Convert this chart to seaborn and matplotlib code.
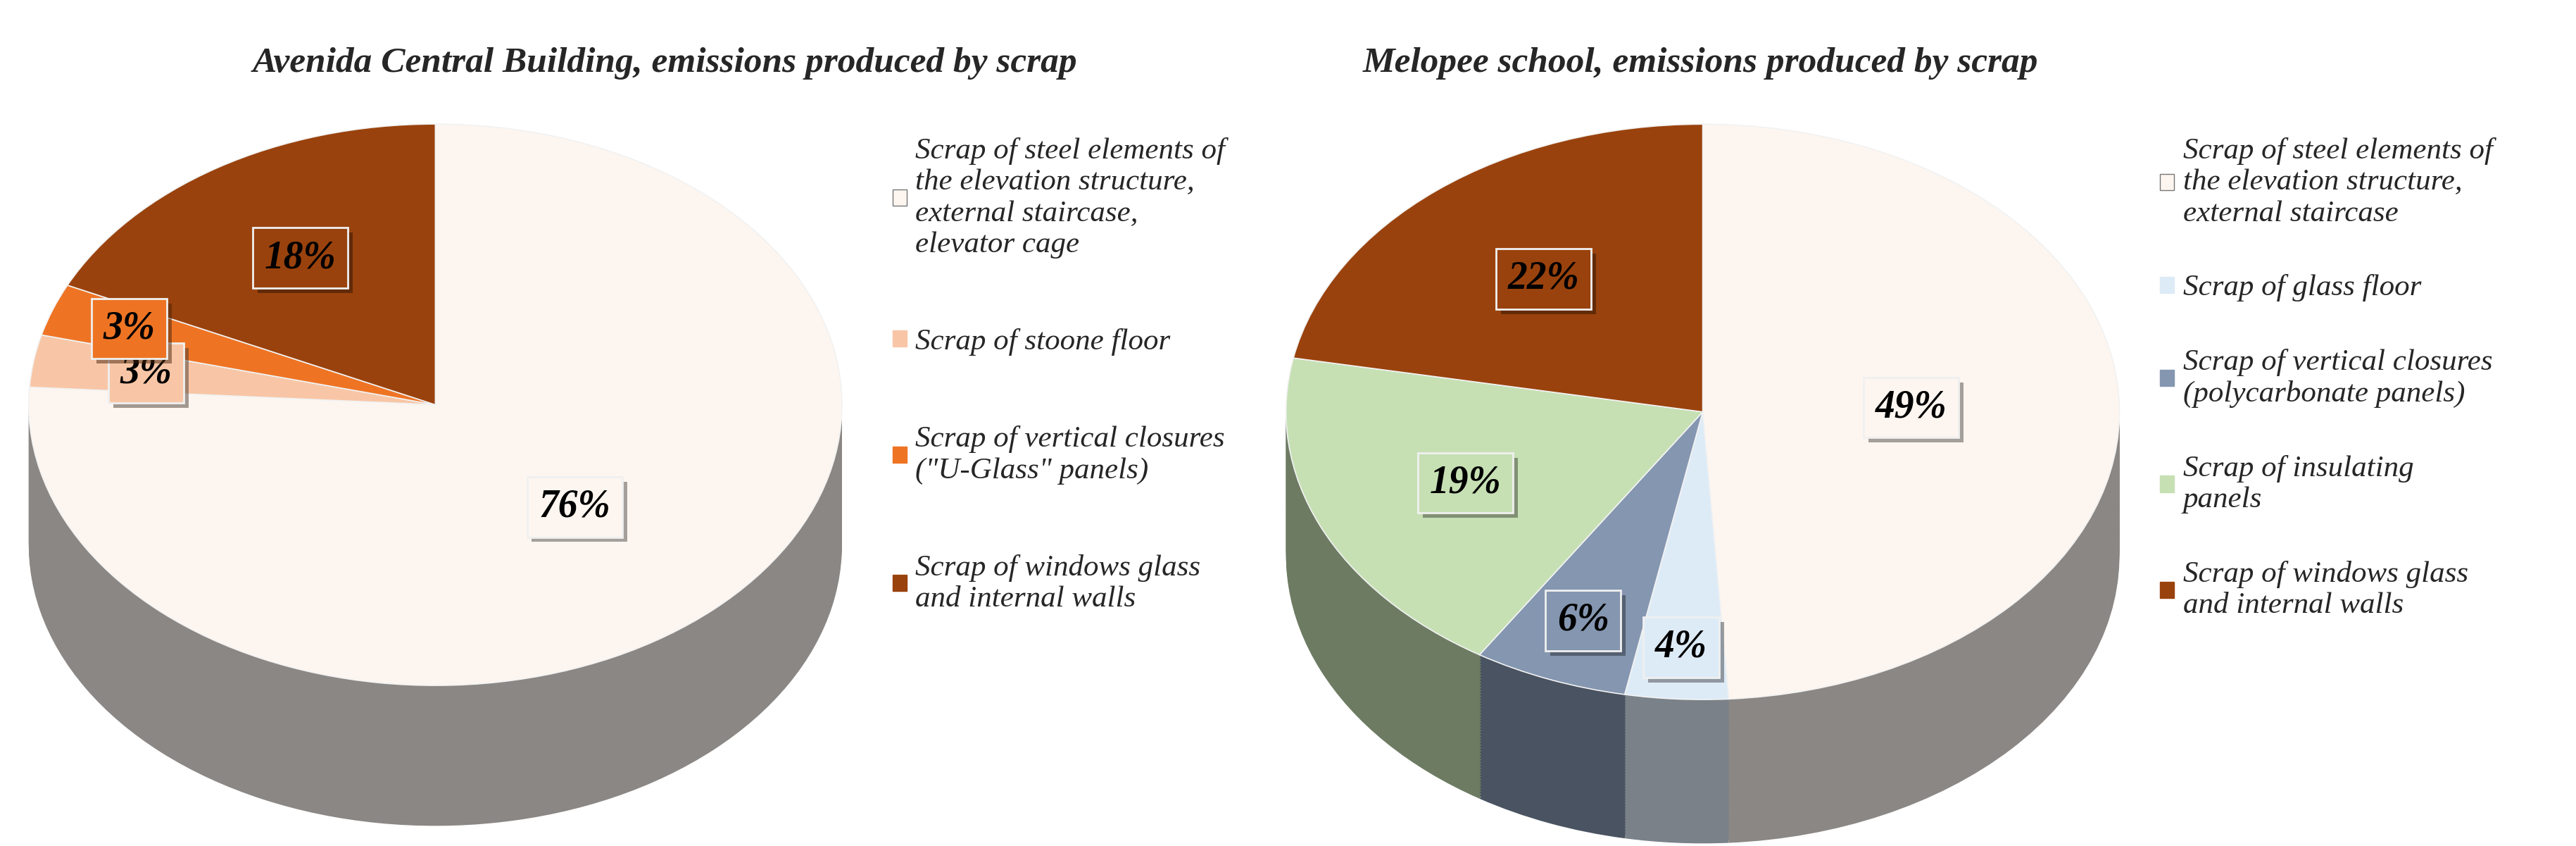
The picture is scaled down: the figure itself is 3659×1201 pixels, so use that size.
import numpy as np
import matplotlib.pyplot as plt
import matplotlib.colors as mcolors
import matplotlib.patheffects as pe
from matplotlib.patches import Patch
import seaborn as sns

sns.set_theme(style="white")
plt.rcParams['font.family'] = ['Liberation Serif', 'DejaVu Serif']

# Avenida Central Building
left_title = "Avenida Central Building, emissions produced by scrap"
left_labels = ["Scrap of steel elements of\nthe elevation structure,\nexternal staircase,\nelevator cage",
               "Scrap of stoone floor",
               "Scrap of vertical closures\n(\"U-Glass\" panels)",
               "Scrap of windows glass\nand internal walls"]
left_values = [76, 3, 3, 18]
left_colors = ["#FDF6F0", "#F8C6A6", "#EE7424", "#9A420D"]
left_pctdist = [0.5, 0.72, 0.8, 0.62]

# Melopee school
right_title = "Melopee school, emissions produced by scrap"
right_labels = ["Scrap of steel elements of\nthe elevation structure,\nexternal staircase",
                "Scrap of glass floor",
                "Scrap of vertical closures\n(polycarbonate panels)",
                "Scrap of insulating\npanels",
                "Scrap of windows glass\nand internal walls"]
right_values = [49, 4, 6, 19, 22]
right_colors = ["#FDF6F0", "#DDEBF7", "#8496B0", "#C6E0B4", "#9A420D"]
right_pctdist = [0.5, 0.82, 0.78, 0.62, 0.6]

fig = plt.figure(figsize=(36.59, 12.01), dpi=100)
fig.patch.set_facecolor("white")


def pie3d(ax, values, colors, pctdist):
    depth = 0.5
    steps = 50
    side = [tuple(np.array(mcolors.to_rgb(c)) * 0.55) for c in colors]
    for k in range(steps, 0, -1):
        ax.pie(values, colors=side, startangle=90, counterclock=False,
               center=(0, -depth * k / steps), radius=1.0,
               wedgeprops=dict(linewidth=0))
    wedges, texts, autotexts = ax.pie(
        values, colors=colors, startangle=90, counterclock=False,
        autopct='%d%%', pctdistance=0.5, radius=1.0,
        wedgeprops=dict(linewidth=1.2, edgecolor="#f2f2f2"))
    for w, t, d, c in zip(wedges, autotexts, pctdist, colors):
        ang = np.deg2rad((w.theta1 + w.theta2) / 2)
        t.set_position((d * np.cos(ang), d * np.sin(ang)))
        t.set_fontsize(40)
        t.set_fontweight("bold")
        t.set_fontstyle("italic")
        t.set_color("black")
        t.set_bbox(dict(boxstyle="square,pad=0.3", facecolor=c,
                        edgecolor="#f0f0f0", linewidth=2,
                        path_effects=[pe.SimplePatchShadow(offset=(5, -5), alpha=0.5),
                                      pe.Normal()]))
    ax.set_aspect("auto")
    ax.set_xlim(-1.02, 1.02)
    bb = ax.get_position()
    W = bb.width * fig.get_figwidth()
    H = bb.height * fig.get_figheight()
    yspan = H / (0.69 * W / 2.04)
    top = 1.02
    ax.set_ylim(top - yspan, top)
    ax.axis("off")


ax1 = fig.add_axes([0.008, 0.0, 0.322, 0.86])
pie3d(ax1, left_values, left_colors, left_pctdist)
ax2 = fig.add_axes([0.496, 0.0, 0.33, 0.86])
pie3d(ax2, right_values, right_colors, right_pctdist)

fig.text(0.258, 0.915, left_title, ha="center", fontsize=37,
         fontweight="bold", fontstyle="italic")
fig.text(0.66, 0.915, right_title, ha="center", fontsize=37,
         fontweight="bold", fontstyle="italic")

for labels, colors, x, spacing in [(left_labels, left_colors, 0.336, 2.3),
                                   (right_labels, right_colors, 0.828, 1.55)]:
    handles = [Patch(facecolor=c, edgecolor="#777777" if i == 0 else c)
               for i, c in enumerate(colors)]
    fig.legend(handles, labels, loc="upper left", bbox_to_anchor=(x, 0.87),
               frameon=False, prop=dict(size=31, style="italic"),
               labelspacing=spacing, handlelength=0.45, handleheight=0.45,
               handletextpad=0.3)

fig.savefig("out.png", dpi=100)
